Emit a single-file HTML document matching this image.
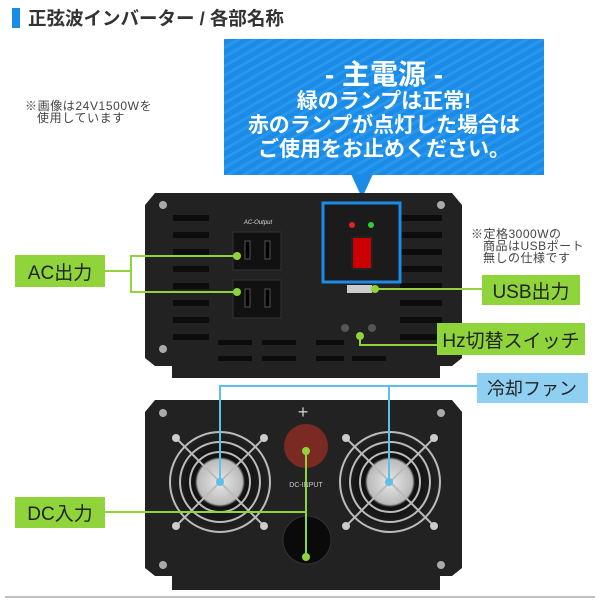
<!DOCTYPE html>
<html><head><meta charset="utf-8"><style>
html,body{margin:0;padding:0;background:#fff;}
svg{display:block;}
text{font-family:"Liberation Sans","Noto Sans CJK JP",sans-serif;}
</style></head><body>
<svg width="600" height="600" viewBox="0 0 600 600" xmlns="http://www.w3.org/2000/svg">
<defs>
<pattern id="st" width="8" height="8" patternUnits="userSpaceOnUse" patternTransform="rotate(60)">
<rect width="8" height="8" fill="#1a8be6"/><rect width="3" height="8" fill="#2a97ee"/>
</pattern>
<radialGradient id="fan" cx="50%" cy="50%" r="50%"><stop offset="0" stop-color="#e8e8e8"/><stop offset="0.45" stop-color="#bbb"/><stop offset="0.5" stop-color="#111"/><stop offset="1" stop-color="#222"/></radialGradient>
</defs>
<rect x="12" y="8" width="8" height="20" fill="#1a8be6"/>
<text x="28" y="25" font-size="18.5" font-weight="bold" fill="#333">正弦波インバーター / 各部名称</text>
<text x="25" y="110" font-size="12" letter-spacing="0.6" fill="#444">※画像は24V1500Wを</text>
<text x="37" y="122" font-size="12" letter-spacing="0.6" fill="#444">使用しています</text>
<rect x="224" y="39" width="320" height="136" fill="url(#st)"/>
<polygon points="351,174 373,174 362,198" fill="#1a8be6"/>
<text x="384" y="84" font-size="28" font-weight="bold" fill="#fff" text-anchor="middle">- 主電源 -</text>
<text x="384" y="108" font-size="21" font-weight="bold" fill="#fff" text-anchor="middle">緑のランプは正常!</text>
<text x="384" y="132" font-size="21" font-weight="bold" fill="#fff" text-anchor="middle">赤のランプが点灯した場合は</text>
<text x="384" y="156" font-size="21" font-weight="bold" fill="#fff" text-anchor="middle">ご使用をお止めください。</text>
<polygon points="172,378 440,378 440,365 172,365" fill="#222"/>
<polygon points="155,193 452,193 462,205 462,358 452,366 155,366 145,358 145,205" fill="#222"/>
<g fill="#0c0c0c">
<rect x="173" y="215" width="36" height="6"/><rect x="173" y="232" width="36" height="6"/><rect x="173" y="249" width="36" height="6"/><rect x="173" y="266" width="36" height="6"/><rect x="173" y="283" width="36" height="6"/><rect x="173" y="300" width="36" height="6"/><rect x="173" y="317" width="36" height="6"/><rect x="173" y="334" width="36" height="6"/>
<rect x="400" y="215" width="42" height="6"/><rect x="400" y="232" width="42" height="6"/><rect x="400" y="249" width="42" height="6"/><rect x="400" y="266" width="42" height="6"/><rect x="400" y="283" width="42" height="6"/><rect x="400" y="300" width="42" height="6"/><rect x="400" y="317" width="42" height="6"/><rect x="400" y="334" width="42" height="6"/>
<rect x="218" y="356" width="34" height="5"/><rect x="262" y="356" width="34" height="5"/><rect x="316" y="356" width="28" height="5"/><rect x="352" y="356" width="34" height="5"/>
<rect x="218" y="340" width="34" height="5"/><rect x="262" y="340" width="34" height="5"/><rect x="316" y="340" width="28" height="5"/>
</g>
<circle cx="163" cy="205" r="4" fill="#aaa"/><circle cx="441" cy="205" r="4" fill="#aaa"/><circle cx="163" cy="349" r="4" fill="#aaa"/><circle cx="441" cy="349" r="4" fill="#aaa"/>
<text x="258" y="224" font-size="6" fill="#ddd" text-anchor="middle" font-style="italic">AC-Output</text>
<rect x="233" y="232" width="48" height="38" fill="#111" stroke="#333"/>
<rect x="233" y="280" width="48" height="38" fill="#111" stroke="#333"/>
<rect x="245" y="241" width="5" height="18" fill="#000" stroke="#555"/><rect x="265" y="241" width="5" height="18" fill="#000" stroke="#555"/>
<rect x="245" y="289" width="5" height="18" fill="#000" stroke="#555"/><rect x="265" y="289" width="5" height="18" fill="#000" stroke="#555"/>
<rect x="323" y="203" width="77" height="79" fill="#1b1b1b" stroke="#1a8be6" stroke-width="3"/>
<circle cx="352" cy="225" r="3" fill="#d22"/><circle cx="371" cy="225" r="3" fill="#3c3"/>
<rect x="352" y="237" width="20" height="32" fill="#c00" stroke="#222" stroke-width="2"/>
<rect x="347" y="285" width="25" height="8" fill="#ccc"/>
<circle cx="345" cy="328" r="4" fill="#555"/><circle cx="372" cy="328" r="4" fill="#555"/>
<polyline points="237,256 131,256 131,292 237,292" fill="none" stroke="#8fd43a" stroke-width="2"/>
<line x1="105" y1="271" x2="131" y2="271" stroke="#8fd43a" stroke-width="2"/>
<circle cx="237" cy="256" r="4" fill="#8fd43a"/><circle cx="237" cy="292" r="4" fill="#8fd43a"/>
<rect x="15" y="255" width="90" height="32" fill="#8fd43a"/>
<text x="60" y="279" font-size="19" fill="#222" text-anchor="middle">AC出力</text>
<line x1="375" y1="289" x2="482" y2="289" stroke="#8fd43a" stroke-width="2"/><circle cx="375" cy="289" r="4" fill="#8fd43a"/>
<rect x="482" y="275" width="98" height="30" fill="#8fd43a"/>
<text x="531" y="298" font-size="19" fill="#222" text-anchor="middle">USB出力</text>
<text x="471" y="238" font-size="12" letter-spacing="0.5" fill="#444">※定格3000Wの</text>
<text x="483" y="250" font-size="12" letter-spacing="0.5" fill="#444">商品はUSBポート</text>
<text x="483" y="262" font-size="12" letter-spacing="0.5" fill="#444">無しの仕様です</text>
<polyline points="360,336 360,345 437,345" fill="none" stroke="#8fd43a" stroke-width="2"/><circle cx="360" cy="336" r="4" fill="#8fd43a"/>
<rect x="437" y="323" width="148" height="32" fill="#8fd43a"/>
<text x="511" y="347" font-size="19" fill="#222" text-anchor="middle">Hz切替スイッチ</text>
<polygon points="172,590 440,590 440,575 172,575" fill="#222"/>
<polygon points="155,400 452,400 462,412 462,568 452,576 155,576 145,568 145,412" fill="#222"/>
<circle cx="163" cy="413" r="4" fill="#aaa"/><circle cx="441" cy="413" r="4" fill="#aaa"/><circle cx="163" cy="565" r="4" fill="#aaa"/><circle cx="441" cy="565" r="4" fill="#aaa"/>
<g stroke="#bbb" stroke-width="2" fill="none">
<circle cx="220" cy="482" r="50" fill="url(#fan)"/><circle cx="220" cy="482" r="40"/><circle cx="220" cy="482" r="30"/>
<line x1="176" y1="438" x2="264" y2="526"/><line x1="264" y1="438" x2="176" y2="526"/>
<circle cx="390" cy="482" r="50" fill="url(#fan)"/><circle cx="390" cy="482" r="40"/><circle cx="390" cy="482" r="30"/>
<line x1="346" y1="438" x2="434" y2="526"/><line x1="434" y1="438" x2="346" y2="526"/>
</g>
<circle cx="176" cy="438" r="4" fill="#ccc"/><circle cx="264" cy="438" r="4" fill="#ccc"/><circle cx="176" cy="526" r="4" fill="#ccc"/><circle cx="264" cy="526" r="4" fill="#ccc"/>
<circle cx="346" cy="438" r="4" fill="#ccc"/><circle cx="434" cy="438" r="4" fill="#ccc"/><circle cx="346" cy="526" r="4" fill="#ccc"/><circle cx="434" cy="526" r="4" fill="#ccc"/>
<text x="303" y="418" font-size="18" fill="#ccc" text-anchor="middle">+</text>
<circle cx="306" cy="446" r="22" fill="#7a2a22"/>
<text x="306" y="487" font-size="7" fill="#ccc" text-anchor="middle">DC-INPUT</text>
<circle cx="307" cy="540" r="24" fill="#0a0a0a" stroke="#333"/>
<polyline points="220,482 220,386 477,386" fill="none" stroke="#5bc0ea" stroke-width="2"/>
<line x1="389" y1="386" x2="389" y2="482" stroke="#5bc0ea" stroke-width="2"/>
<circle cx="220" cy="482" r="4" fill="#5bc0ea"/><circle cx="389" cy="482" r="4" fill="#5bc0ea"/>
<rect x="477" y="373" width="111" height="30" fill="#8fd0f2"/>
<text x="532" y="395" font-size="18" fill="#222" text-anchor="middle">冷却ファン</text>
<line x1="306" y1="450" x2="306" y2="557" stroke="#8fd43a" stroke-width="2"/>
<line x1="105" y1="512" x2="306" y2="512" stroke="#8fd43a" stroke-width="2"/>
<circle cx="306" cy="451" r="4" fill="#8fd43a"/><circle cx="306" cy="557" r="4" fill="#8fd43a"/>
<rect x="15" y="497" width="90" height="31" fill="#8fd43a"/>
<text x="60" y="520" font-size="19" fill="#222" text-anchor="middle">DC入力</text>
<line x1="5" y1="597" x2="595" y2="597" stroke="#aaa" stroke-width="1.5"/>
</svg>
</body></html>
